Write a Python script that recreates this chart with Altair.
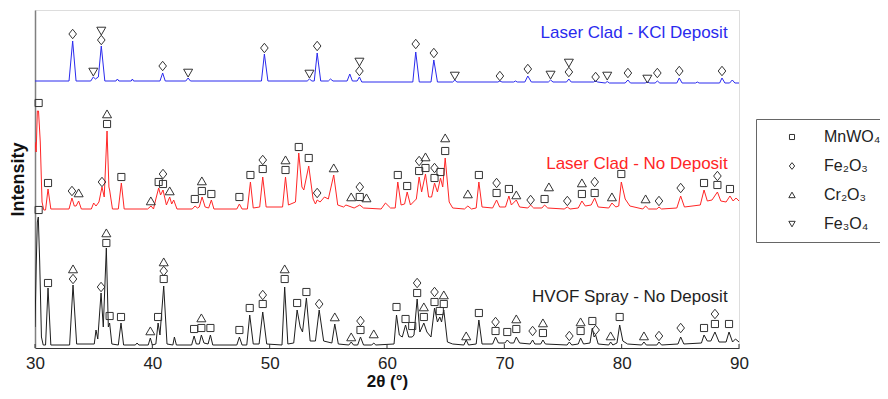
import altair as alt
import pandas as pd

# ---- phases (legend) ----
phase_names = ["MnWO₄", "Fe₂O₃", "Cr₂O₃", "Fe₃O₄"]
phase_codes = {"S": "MnWO₄", "D": "Fe₂O₃", "T": "Cr₂O₃", "V": "Fe₃O₄"}
phase_shapes = [
    "M-0.75,-0.75L0.75,-0.75L0.75,0.75L-0.75,0.75Z",
    "M-0.8,0L0,-1L0.8,0L0,1Z",
    "M0,-0.85L0.95,0.8L-0.95,0.8Z",
    "M0,0.85L0.95,-0.8L-0.95,-0.8Z",
]

series_names = ["Laser Clad - KCl Deposit", "Laser Clad - No Deposit", "HVOF Spray - No Deposit"]
series_colors = ["#2a2aee", "#ff2626", "#1e1e1e"]

# ---- diffraction patterns (2theta, intensity a.u., offset stacked) ----
blue_pattern = [
    (30.0, 266), (32.9, 266), (33.21, 306), (33.5, 266), (34.75, 266), (34.97, 270), (35.15, 268),
    (35.4, 270), (35.65, 301), (35.95, 266), (36.9, 266), (37.02, 268), (37.15, 266), (38.2, 266),
    (38.3, 268), (38.4, 266), (40.65, 266), (40.88, 274), (41.1, 266), (42.85, 266), (43.05, 269),
    (43.25, 266), (49.3, 266), (49.55, 293), (49.85, 266), (53.2, 266), (53.39, 268), (53.6, 266),
    (53.8, 266), (54.05, 294), (54.35, 266), (55.0, 266), (55.18, 268), (55.4, 266), (56.6, 266),
    (56.83, 273), (57.05, 266), (57.45, 266), (57.65, 270), (57.85, 265), (62.2, 265), (62.45, 295),
    (62.75, 265), (63.75, 265), (63.99, 287), (64.3, 265), (65.6, 265), (65.78, 267), (65.95, 265),
    (69.45, 265), (69.62, 266), (69.8, 265), (70.8, 265), (70.95, 266), (71.1, 265), (71.75, 265),
    (72.0, 271), (72.3, 265), (73.75, 265), (73.94, 267), (74.15, 265), (75.3, 265), (75.5, 268),
    (75.7, 265), (77.6, 265), (77.78, 266), (77.95, 265), (78.6, 264), (78.77, 265.5), (78.95, 264),
    (80.3, 264), (80.53, 267), (80.75, 264), (82.0, 264), (82.19, 265), (82.4, 264), (82.85, 264),
    (83.04, 266), (83.25, 264), (84.7, 264), (84.91, 269), (85.15, 264), (86.3, 264), (86.45, 265),
    (86.6, 264), (88.35, 264), (88.55, 269), (88.8, 264), (89.2, 264), (89.43, 267), (89.65, 264),
    (90.0, 264),
]

red_pattern = [
    (30.0, 205), (30.1, 195), (30.2, 236), (30.3, 236), (30.45, 205), (30.6, 145), (30.75, 137),
    (30.9, 137), (31.11, 158), (31.35, 138), (32.9, 138), (33.15, 149), (33.35, 141), (33.5, 141),
    (33.72, 146), (33.95, 138), (34.8, 138), (35.0, 144), (35.2, 141), (35.45, 145), (35.71, 160),
    (35.9, 150), (36.14, 216), (36.3, 160), (36.36, 157), (36.6, 138), (37.1, 138), (37.36, 164),
    (37.6, 138), (39.6, 138), (39.89, 141), (40.1, 138), (40.3, 148), (40.54, 159), (40.7, 152),
    (40.91, 157), (41.2, 142), (41.48, 150), (41.65, 143), (41.82, 147), (42.1, 138), (43.4, 138),
    (43.64, 141), (43.85, 139), (44.0, 140), (44.24, 150), (44.5, 140), (44.8, 139), (45.03, 147),
    (45.25, 138), (47.2, 138), (47.42, 143), (47.65, 138), (48.1, 138), (48.36, 165), (48.6, 139),
    (49.15, 140), (49.41, 170), (49.7, 140), (51.1, 140), (51.35, 170), (51.6, 142), (52.2, 145),
    (52.48, 194), (52.75, 160), (52.91, 157), (53.33, 181), (53.7, 148), (53.9, 143), (54.05, 147),
    (54.3, 145), (54.67, 150), (55.0, 148), (55.46, 172), (55.8, 142), (56.3, 140), (56.5, 142),
    (57.2, 139), (57.68, 142), (58.0, 139), (59.5, 138), (59.87, 144), (60.3, 139), (60.7, 139),
    (60.92, 165), (61.2, 142), (61.5, 143), (61.72, 155), (62.0, 142), (62.5, 148), (62.74, 170),
    (62.95, 155), (63.28, 173), (63.55, 150), (63.8, 150), (64.05, 164), (64.3, 155), (64.56, 169),
    (64.75, 160), (64.96, 189), (65.3, 145), (65.6, 139), (66.6, 138), (66.89, 141), (67.2, 138),
    (67.6, 139), (67.83, 165), (68.1, 140), (69.0, 139), (69.34, 147), (69.6, 140), (70.1, 140),
    (70.39, 151), (70.6, 142), (71.02, 147), (71.3, 140), (72.0, 139), (72.24, 142), (72.5, 139),
    (73.2, 139), (73.43, 142), (73.7, 139), (75.1, 138), (75.37, 140), (75.6, 138), (76.3, 139),
    (76.61, 146), (76.9, 141), (77.4, 142), (77.7, 149), (78.0, 140), (78.9, 139), (79.17, 144),
    (79.5, 140), (79.75, 141), (79.97, 165), (80.3, 148), (80.7, 141), (81.8, 138), (82.04, 141),
    (82.3, 138), (83.0, 138), (83.18, 140), (83.4, 138), (84.7, 139), (85.03, 151), (85.35, 140),
    (86.7, 142), (87.02, 157), (87.3, 146), (87.7, 147), (88.16, 155), (88.45, 146), (88.9, 145),
    (89.23, 151), (89.5, 146), (89.75, 149), (90.0, 146),
]

black_pattern = [
    (30.0, 20), (30.1, 80), (30.2, 125), (30.28, 130), (30.4, 85), (30.55, 10), (30.7, 2),
    (30.9, 2), (31.11, 59), (31.35, 2), (32.95, 2), (33.24, 62), (33.55, 3), (35.05, 3), (35.2, 17),
    (35.35, 8), (35.63, 54), (35.82, 20), (36.08, 99), (36.25, 20), (36.36, 24), (36.55, 3),
    (37.1, 2), (37.33, 24), (37.55, 2), (38.55, 2), (38.7, 4), (38.85, 2), (39.65, 2), (39.83, 9),
    (40.0, 2), (40.3, 3), (40.49, 24), (40.65, 12), (40.97, 61), (41.25, 3), (41.75, 2), (41.88, 10),
    (42.05, 2), (43.35, 2), (43.56, 11), (43.75, 3), (44.0, 3), (44.18, 12), (44.4, 4), (44.75, 3),
    (44.95, 12), (45.15, 2), (47.2, 2), (47.42, 10), (47.65, 2), (48.05, 2), (48.3, 32), (48.6, 3),
    (49.1, 3), (49.41, 35), (49.75, 3), (51.05, 2), (51.28, 60), (51.55, 3), (52.05, 4), (52.34, 37),
    (52.6, 20), (52.8, 15), (53.13, 49), (53.45, 6), (53.9, 6), (54.22, 37), (54.6, 6), (55.3, 4),
    (55.55, 23), (55.85, 3), (56.75, 2), (56.95, 5), (57.15, 2), (57.5, 2), (57.74, 10), (58.0, 2),
    (58.7, 2), (58.87, 4), (59.05, 2), (60.6, 3), (60.81, 32), (61.05, 12), (61.3, 10), (61.58, 22),
    (61.85, 10), (62.15, 10), (62.3, 12), (62.57, 48), (62.8, 15), (63.14, 24), (63.4, 15),
    (63.75, 10), (64.05, 39), (64.3, 25), (64.5, 30), (64.65, 25), (64.84, 37), (65.15, 5),
    (65.6, 3), (66.55, 2), (66.75, 7), (66.95, 2), (67.6, 3), (67.83, 27), (68.1, 3), (69.0, 3),
    (69.25, 10), (69.5, 4), (70.05, 4), (70.25, 7), (70.5, 4), (70.8, 4), (71.02, 10), (71.3, 4),
    (72.2, 3), (72.41, 7), (72.6, 3), (73.1, 3), (73.29, 7), (73.5, 3), (75.35, 2), (75.54, 5),
    (75.75, 2), (76.3, 3), (76.5, 9), (76.75, 3), (77.3, 4), (77.5, 19), (77.65, 10), (77.78, 12),
    (78.0, 3), (78.9, 2), (79.06, 5), (79.25, 2), (79.6, 4), (79.83, 22), (80.1, 6), (80.5, 3),
    (81.7, 2), (81.9, 5), (82.1, 2), (83.0, 2), (83.18, 5), (83.4, 2), (84.8, 3), (85.03, 10),
    (85.3, 3), (86.8, 4), (87.02, 12), (87.3, 6), (87.6, 6), (87.95, 15), (88.3, 5), (88.9, 5),
    (89.15, 15), (89.45, 5), (89.7, 8), (90.0, 5),
]

# ---- phase identification markers (2theta, intensity, phase) ----
blue_markers = [
    (33.21, 313, "D"), (35.65, 307, "D"), (35.65, 316, "V"), (34.97, 275, "V"), (40.88, 281, "D"),
    (43.05, 274, "V"), (49.55, 299, "D"), (54.05, 301, "D"), (53.39, 273, "V"), (57.65, 276, "D"),
    (57.65, 285, "V"), (62.45, 303, "D"), (63.99, 294, "D"), (65.78, 271, "V"), (69.62, 271, "D"),
    (72.00, 278, "D"), (73.94, 272, "V"), (75.50, 275, "D"), (75.50, 284, "V"), (77.78, 270, "D"),
    (78.77, 271, "V"), (80.53, 274, "D"), (82.19, 268, "V"), (83.04, 274, "D"), (84.91, 276, "D"),
    (88.55, 276, "D"),
]

red_markers = [
    (30.31, 244, "S"), (31.11, 164, "S"), (33.15, 156, "D"), (33.72, 154, "T"), (35.71, 165, "D"),
    (36.14, 223, "S"), (36.14, 233, "T"), (37.36, 170, "S"), (39.87, 146, "T"), (40.54, 165, "S"),
    (40.91, 163, "S"), (40.91, 173, "D"), (41.48, 156, "T"), (43.62, 148, "S"), (44.22, 156, "S"),
    (44.22, 166, "T"), (45.03, 153, "S"), (47.42, 150, "S"), (48.36, 172, "S"), (49.41, 178, "S"),
    (49.41, 187, "D"), (51.35, 177, "S"), (51.35, 187, "T"), (52.48, 200, "S"), (53.33, 189, "S"),
    (54.05, 154, "D"), (55.46, 179, "T"), (56.95, 150, "T"), (57.68, 150, "S"), (57.68, 160, "D"),
    (58.25, 149, "T"), (60.92, 172, "S"), (61.72, 161, "S"), (62.74, 176, "S"), (62.74, 186, "D"),
    (63.28, 179, "S"), (63.28, 190, "T"), (64.05, 169, "S"), (64.05, 179, "D"), (64.56, 175, "S"),
    (64.96, 196, "S"), (64.96, 209, "T"), (66.89, 153, "T"), (67.83, 172, "S"), (69.34, 154, "S"),
    (69.34, 164, "D"), (70.39, 158, "S"), (71.02, 152, "T"), (72.24, 147, "D"), (73.43, 148, "S"),
    (73.80, 160, "T"), (75.37, 146, "D"), (76.61, 153, "S"), (76.61, 164, "T"), (77.70, 154, "S"),
    (77.70, 165, "D"), (79.17, 150, "T"), (79.97, 173, "S"), (82.04, 148, "T"), (83.18, 146, "D"),
    (85.03, 159, "D"), (87.02, 164, "S"), (88.16, 162, "S"), (88.16, 171, "D"), (89.23, 158, "S"),
]

black_markers = [
    (30.31, 137, "S"), (31.11, 64, "S"), (33.24, 68, "D"), (33.24, 78, "T"), (35.63, 60, "D"),
    (36.08, 104, "S"), (36.08, 114, "T"), (36.36, 31, "S"), (37.33, 30, "S"), (39.83, 16, "T"),
    (40.49, 30, "S"), (40.97, 68, "S"), (40.97, 76, "D"), (40.97, 85, "T"), (43.56, 18, "S"),
    (44.18, 19, "S"), (44.18, 29, "T"), (44.95, 19, "S"), (47.42, 17, "S"), (48.30, 39, "S"),
    (49.41, 43, "S"), (49.41, 52, "D"), (51.28, 68, "S"), (51.28, 78, "T"), (52.34, 44, "S"),
    (53.13, 55, "S"), (54.22, 43, "D"), (55.55, 30, "T"), (56.95, 10, "T"), (57.74, 17, "S"),
    (57.74, 26, "D"), (58.87, 13, "T"), (60.81, 40, "S"), (61.58, 28, "S"), (62.15, 21, "S"),
    (62.57, 54, "S"), (62.57, 64, "D"), (63.14, 30, "S"), (63.14, 40, "T"), (64.05, 45, "S"),
    (64.05, 55, "D"), (64.50, 36, "S"), (64.84, 43, "S"), (64.84, 52, "T"), (66.75, 11, "T"),
    (67.83, 34, "S"), (69.25, 16, "S"), (69.25, 25, "D"), (70.25, 15, "S"), (71.02, 18, "S"),
    (71.02, 28, "T"), (72.41, 16, "D"), (73.29, 14, "S"), (73.29, 24, "T"), (75.54, 11, "D"),
    (76.50, 16, "S"), (76.50, 25, "T"), (77.50, 26, "S"), (77.78, 17, "D"), (79.06, 11, "T"),
    (79.83, 30, "S"), (81.90, 11, "T"), (83.18, 11, "D"), (85.03, 19, "D"), (87.02, 19, "S"),
    (87.95, 23, "S"), (87.95, 33, "D"), (89.15, 23, "S"),
]

# ---- series labels ----
label_2theta = [89.03, 89.03, 89.03]
label_counts = [314, 183, 50]

x_ticks = [30, 40, 50, 60, 70, 80, 90]

# ---- build tables ----
line_rows = []
for name, pat in zip(series_names, [blue_pattern, red_pattern, black_pattern]):
    for i, (t, c) in enumerate(pat):
        line_rows.append({"series": name, "theta": t, "counts": c, "idx": i})
lines_df = pd.DataFrame(line_rows)

marker_rows = []
for name, mk in zip(series_names, [blue_markers, red_markers, black_markers]):
    for t, c, p in mk:
        marker_rows.append({"series": name, "theta": t, "counts": c, "phase": phase_codes[p]})
markers_df = pd.DataFrame(marker_rows)

labels_df = pd.DataFrame({"series": series_names, "theta": label_2theta, "counts": label_counts})
ticks_df = pd.DataFrame({"theta": x_ticks})

FONT = "Liberation Sans"
xscale = alt.Scale(domain=[30, 90], nice=False)
yscale = alt.Scale(domain=[-1, 337], nice=False)
cscale = alt.Scale(domain=series_names, range=series_colors)

x_enc = alt.X(
    "theta:Q", scale=xscale,
    axis=alt.Axis(values=x_ticks, ticks=False, grid=False, labelFontSize=17, labelFont=FONT,
                  labelColor="#222", labelPadding=7, labelFlush=False, domainColor="#333",
                  domainWidth=1, title="2θ (°)", titleFont=FONT, titleFontSize=17,
                  titleFontWeight="bold", titleColor="#111", titlePadding=2),
)
y_enc = alt.Y(
    "counts:Q", scale=yscale,
    axis=alt.Axis(ticks=False, labels=False, grid=False, domainColor="#808080", domainWidth=1.5,
                  title="Intensity", titleFont=FONT, titleFontSize=18, titleFontWeight="bold",
                  titleColor="#111", titlePadding=8),
)

lines = alt.Chart(lines_df).mark_line(strokeWidth=1, clip=True).encode(
    x=x_enc, y=y_enc,
    color=alt.Color("series:N", scale=cscale, legend=None),
    detail="series:N",
    order="idx:Q",
)

markers = alt.Chart(markers_df).mark_point(filled=False, strokeWidth=1, color="#333", size=90, opacity=1).encode(
    x="theta:Q", y="counts:Q",
    shape=alt.Shape(
        "phase:N",
        scale=alt.Scale(domain=phase_names, range=phase_shapes),
        legend=alt.Legend(
            title=None, orient="none", legendX=721, legendY=109, padding=10,
            symbolOffset=18, labelOffset=24, rowPadding=13, symbolSize=45,
            symbolStrokeColor="#333", symbolFillColor="transparent", symbolStrokeWidth=1,
            labelFontSize=16, labelFont=FONT, labelColor="#222", labelLimit=200,
            strokeColor="#666", fillColor="white",
        ),
    ),
)

texts = alt.Chart(labels_df).mark_text(align="right", baseline="middle", fontSize=17, font=FONT).encode(
    x="theta:Q", y="counts:Q",
    color=alt.Color("series:N", scale=cscale, legend=None),
    text="series:N",
)

ticks = alt.Chart(ticks_df).mark_rule(color="#333", strokeWidth=1).encode(
    x="theta:Q", y=alt.value(334), y2=alt.value(338),
)

chart = alt.layer(lines, markers, texts, ticks).properties(
    width=704, height=338,
    autosize=alt.AutoSizeParams(type="none"),
    padding={"left": 27, "top": 2, "right": 141, "bottom": 43},
).configure_view(stroke=None).configure(background="white")

chart.save("out.html", embed_options={"renderer": "svg", "actions": False})
